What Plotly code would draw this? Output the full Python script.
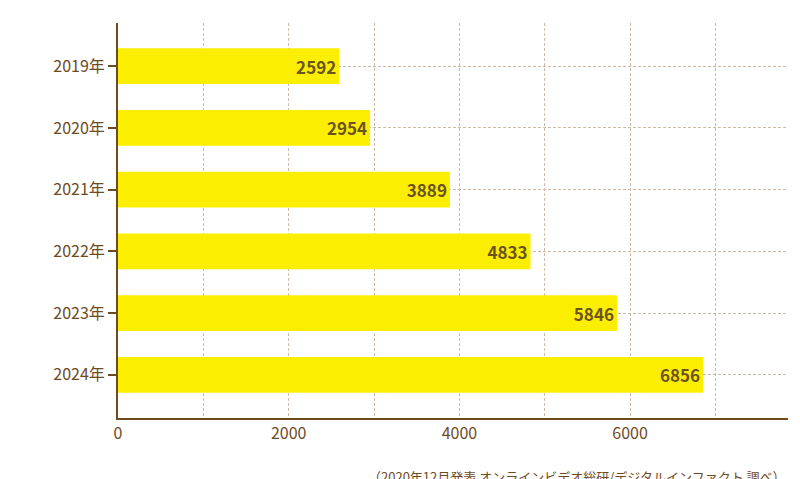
import plotly.graph_objects as go

years = ["2019年", "2020年", "2021年", "2022年", "2023年", "2024年"]
values = [2592, 2954, 3889, 4833, 5846, 6856]
tick_vals = [0, 1000, 2000, 3000, 4000, 5000, 6000, 7000]
tick_text = ["0", "", "2000", "", "4000", "", "6000", ""]

brown = "#6e4a1f"
grid = "#cdb9a5"
font = "Noto Sans CJK JP"

fig = go.Figure(go.Bar(
    y=years, x=values, orientation="h", width=0.58,
    marker=dict(color="#fcee00", line=dict(width=0)),
    text=[str(v) for v in values], textposition="inside", insidetextanchor="end",
    textfont=dict(color="#6b5320", size=17, family=font, weight="bold"),
))
fig.update_layout(
    width=800, height=479, margin=dict(l=110, r=20, t=15, b=69),
    plot_bgcolor="white", paper_bgcolor="white", showlegend=False,
    font=dict(family=font, color=brown, size=16),
    xaxis=dict(range=[0, 7850], tickvals=tick_vals, ticktext=tick_text, automargin=False,
               showgrid=True, gridcolor=grid, griddash="3px,2px", gridwidth=1,
               showline=True, linecolor=brown, linewidth=2, zeroline=False,
               ticks="", tickfont=dict(size=16, color=brown)),
    yaxis=dict(autorange=False, range=[5.7, -0.7], categoryorder="array", categoryarray=years,
               automargin=False,
               showgrid=True, gridcolor=grid, griddash="3px,2px",
               showline=True, linecolor=brown, linewidth=2,
               ticks="outside", ticklen=8, tickcolor=brown, tickwidth=2,
               tickfont=dict(size=16, color=brown)),
    annotations=[dict(text="（2020年12月発表 オンラインビデオ総研/デジタルインファクト 調べ）",
                      xref="paper", yref="paper", x=1.0, y=-0.12, xanchor="right", yanchor="top",
                      showarrow=False, font=dict(size=13, color=brown, family=font))],
)
fig.write_html("out.html")
